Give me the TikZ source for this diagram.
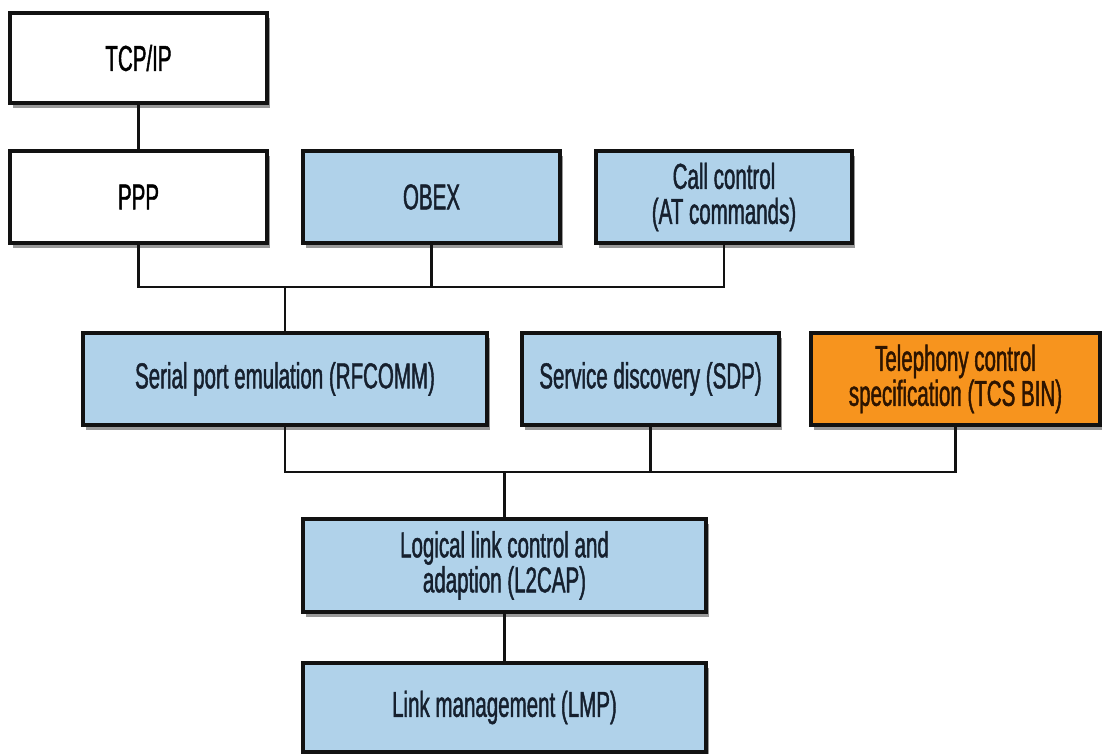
\documentclass[tikz,border=0pt]{standalone}
\usepackage{fontspec}
\setmainfont[FakeStretch=0.57,FakeBold=1.2]{Liberation Sans}
\usetikzlibrary{shadows}
\definecolor{boxblue}{RGB}{176,210,234}
\definecolor{boxorange}{RGB}{247,148,30}
\definecolor{edge}{RGB}{18,18,18}
\definecolor{bluetext}{RGB}{22,32,46}
\definecolor{orangetext}{RGB}{45,20,0}
\tikzset{
  layer/.style={draw=edge, line width=3.3pt, rectangle, align=center,
    font=\fontsize{36}{35}\selectfont, inner sep=0pt,
    drop shadow={shadow xshift=3pt, shadow yshift=-5pt, opacity=0.4, fill=black}},
  whitebox/.style={layer, fill=white, text=black},
  bluebox/.style={layer, fill=boxblue, text=bluetext},
  orangebox/.style={layer, fill=boxorange, text=orangetext},
  link/.style={draw=edge, line width=2.7pt}
}
\begin{document}
\begin{tikzpicture}[x=1pt,y=1pt]
\useasboundingbox[fill=white] (0,0) rectangle (1102,753);
\node[whitebox, minimum width=257pt, minimum height=90pt] (tcp) at (138.5,695) {TCP/IP};
\node[whitebox, minimum width=257pt, minimum height=92pt] (ppp) at (138.5,556) {PPP};
\node[bluebox, minimum width=257pt, minimum height=92pt] (obex) at (431.5,556) {OBEX};
\node[bluebox, minimum width=256pt, minimum height=92pt] (call) at (724,556) {Call control\\(AT commands)};
\node[bluebox, minimum width=404pt, minimum height=92pt] (serial) at (285,374) {Serial port emulation (RFCOMM)};
\node[bluebox, minimum width=257pt, minimum height=92pt] (sdp) at (650.5,374) {Service discovery (SDP)};
\node[orangebox, minimum width=289pt, minimum height=92pt] (tcs) at (955.5,374) {Telephony control\\specification (TCS BIN)};
\node[bluebox, minimum width=403pt, minimum height=93pt] (l2cap) at (504.5,187.5) {Logical link control and\\adaption (L2CAP)};
\node[bluebox, minimum width=403pt, minimum height=89pt] (lmp) at (504.5,45.5) {Link management (LMP)};
\coordinate (b1) at (285,466);
\coordinate (b2) at (504.5,281);
\draw[link] (tcp.south) -- (ppp.north);
\draw[link] (ppp.south) |- (b1) -| (call.south);
\draw[link] (obex.south) -- (obex.south |- b1);
\draw[link] (b1) -- (serial.north);
\draw[link] (serial.south) |- (b2) -| (tcs.south);
\draw[link] (sdp.south) -- (sdp.south |- b2);
\draw[link] (b2) -- (l2cap.north);
\draw[link] (l2cap.south) -- (lmp.north);
\end{tikzpicture}
\end{document}
